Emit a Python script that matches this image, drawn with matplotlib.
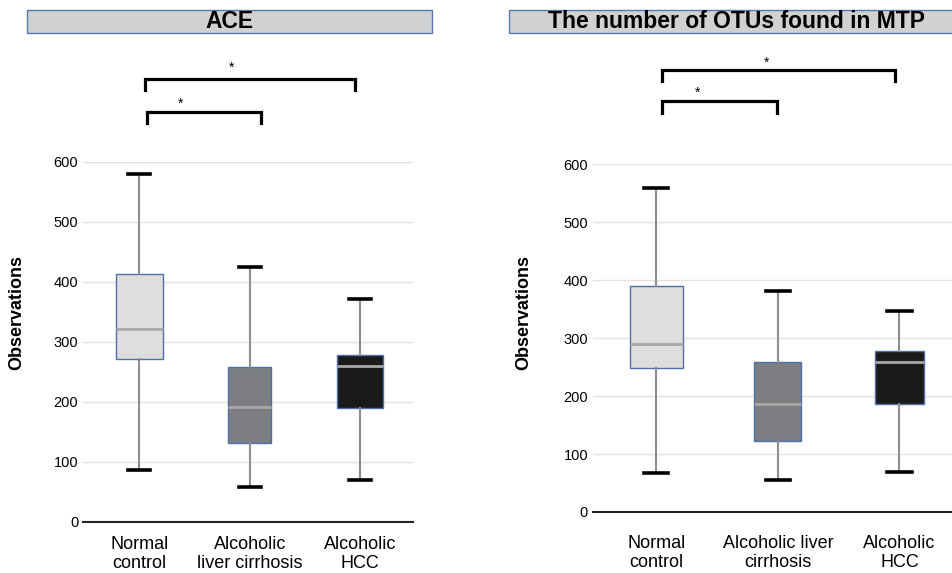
import matplotlib
matplotlib.use("Agg")
import matplotlib.pyplot as plt
from matplotlib.patches import Rectangle

plt.rcParams["font.family"] = ["Liberation Sans", "DejaVu Sans"]

# --- data ---
ace_labels = ["Normal\ncontrol", "Alcoholic\nliver cirrhosis", "Alcoholic\nHCC"]
ace_low = [86, 58, 70]
ace_q1 = [272, 132, 189]
ace_med = [322, 191, 260]
ace_q3 = [413, 258, 278]
ace_high = [579, 425, 371]

otu_labels = ["Normal\ncontrol", "Alcoholic liver\ncirrhosis", "Alcoholic\nHCC"]
otu_low = [68, 56, 69]
otu_q1 = [248, 123, 186]
otu_med = [290, 186, 258]
otu_q3 = [390, 259, 278]
otu_high = [559, 381, 347]

box_colors = ["#dedede", "#7d7e82", "#1a1a1a"]
yticks = [0, 100, 200, 300, 400, 500, 600]

fig = plt.figure(figsize=(9.53, 5.73), dpi=100)


def draw_panel(ax, labels, low, q1, med, q3, high, widths, pad, brackets):
    stats = []
    for i in range(len(labels)):
        stats.append({"whislo": low[i], "q1": q1[i], "med": med[i],
                      "q3": q3[i], "whishi": high[i], "fliers": []})
    bp = ax.bxp(stats, positions=[1, 2, 3], widths=widths, capwidths=0.2,
                patch_artist=True, showfliers=False,
                boxprops=dict(edgecolor="#4f6fa8", linewidth=1),
                whiskerprops=dict(color="#8e8e8e", linewidth=1.5),
                capprops=dict(color="black", linewidth=2.6),
                medianprops=dict(color="#a8a8a8", linewidth=2))
    for patch, c in zip(bp["boxes"], box_colors):
        patch.set_facecolor(c)
    for s in ax.spines.values():
        s.set_visible(False)
    ax.set_yticks(yticks)
    ax.set_ylim(0, 600)
    ax.grid(axis="y", color="#e2e2e2", linewidth=1)
    ax.set_axisbelow(True)
    ax.axhline(0, color="#222222", linewidth=1.5, clip_on=False, zorder=3)
    ax.tick_params(axis="y", length=0, labelsize=10.5, pad=3.5)
    ax.set_xticks([1, 2, 3])
    ax.set_xticklabels(labels, fontsize=13)
    ax.tick_params(axis="x", length=0, pad=pad)
    for x1, x2, ytop, leg, sx, sy in brackets:
        ax.plot([x1, x1, x2, x2], [ytop - leg, ytop, ytop, ytop - leg],
                color="black", linewidth=2.3, clip_on=False,
                solid_joinstyle="miter")
        ax.text(sx, sy, "*", ha="center", va="center", fontsize=10,
                clip_on=False)


ax1 = fig.add_axes([0.0871, 0.0895, 0.3463, 0.6283])
ax1.set_xlim(0.49, 3.48)
draw_panel(ax1, ace_labels, ace_low, ace_q1, ace_med, ace_q3, ace_high,
           [0.43, 0.39, 0.42], 10,
           [(1.055, 2.955, 738, 18, 1.84, 756),
            (1.07, 2.105, 682, 18, 1.37, 696)])

ax2 = fig.add_axes([0.6222, 0.1065, 0.3778, 0.6068])
ax2.set_xlim(0.48, 3.44)
draw_panel(ax2, otu_labels, otu_low, otu_q1, otu_med, otu_q3, otu_high,
           [0.436, 0.387, 0.41], 16.5,
           [(1.05, 2.96, 763, 19, 1.905, 776),
            (1.05, 1.99, 709, 20, 1.34, 723)])

# y labels
fig.text(17 / 953, 1 - 312 / 573, "Observations", rotation=90,
         ha="center", va="center", fontsize=13, fontweight="bold")
fig.text(523.5 / 953, 1 - 312 / 573, "Observations", rotation=90,
         ha="center", va="center", fontsize=13, fontweight="bold")

# title boxes
for x0, x1, title, cx in [(27, 432, "ACE", 229.5),
                          (509, 960, "The number of OTUs found in MTP", 737)]:
    fig.patches.append(Rectangle((x0 / 953, 1 - 33 / 573), (x1 - x0) / 953,
                                 23 / 573, transform=fig.transFigure,
                                 facecolor="#d0d1d3", edgecolor="#5a78b0",
                                 linewidth=1))
    fig.text(cx / 953, 1 - 21.5 / 573, title, ha="center", va="center",
             fontsize=16.5, fontweight="bold")

fig.savefig("out.png", dpi=100)
